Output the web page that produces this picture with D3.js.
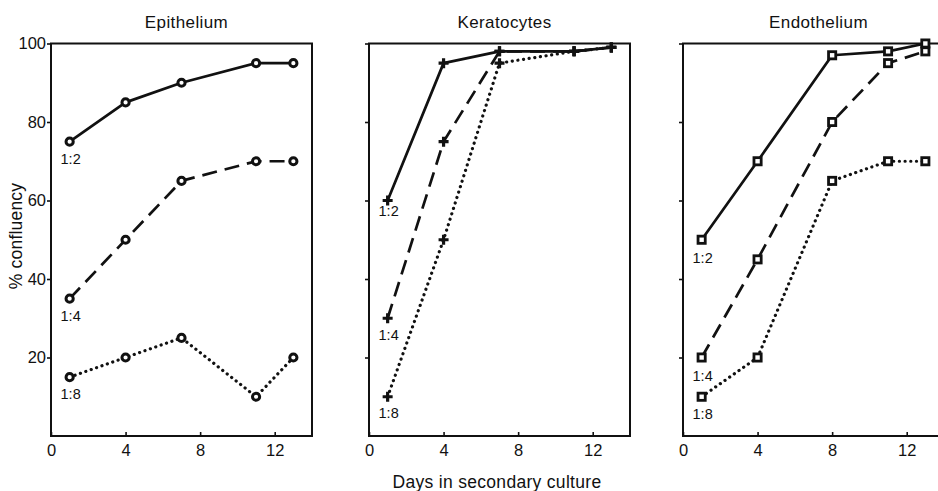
<!DOCTYPE html>
<html><head><meta charset="utf-8">
<script src="https://cdn.jsdelivr.net/npm/d3@7"></script>
<style>body{margin:0;background:#fff}svg{display:block}</style>
</head><body><svg id="c" width="938" height="491"></svg>
<script>
// ---- data ----
const panelTitles = ["Epithelium", "Keratocytes", "Endothelium"];
const ratioLabels = ["1:2", "1:4", "1:8"];
const xTicks = [0, 4, 8, 12];
const yTicks = [20, 40, 60, 80, 100];
const yTickLabels = ["20", "40", "60", "80", "100"];
const xTitle = "Days in secondary culture";
const yTitle = "% confluency";

const epiDays = [1, 4, 7, 11, 13];
const epi12 = [75, 85, 90, 95, 95];
const epi14 = [35, 50, 65, 70, 70];
const epi18 = [15, 20, 25, 10, 20];

const kerDays = [1, 4, 7, 11, 13];
const ker12 = [60, 95, 98, 98, 99];
const ker14 = [30, 75, 98, 98, 99];
const ker18 = [10, 50, 95, 98, 99];

const endDays = [1, 4, 8, 11, 13];
const end12 = [50, 70, 97, 98, 100];
const end14 = [20, 45, 80, 95, 98];
const end18 = [10, 20, 65, 70, 70];

// ---- build ----
const panelsData = [
  {title: panelTitles[0], days: epiDays, series: [epi12, epi14, epi18], marker: "circle"},
  {title: panelTitles[1], days: kerDays, series: [ker12, ker14, ker18], marker: "plus"},
  {title: panelTitles[2], days: endDays, series: [end12, end14, end18], marker: "square"}
];

const FONT = "'Liberation Sans', Arial, Helvetica, sans-serif";
const svg = d3.select("#c");
const lefts = [51, 369, 683];
const pw = 261, plotTop = 43.5, plotBottom = 436;
const dashes = [null, "15 8", "0.1 5.6"];
const labelDy = [[22, 22, 22], [15, 22, 21], [23, 23, 22]];

panelsData.forEach((p, pi) => {
  const x = d3.scaleLinear().domain([0, 14]).range([lefts[pi], lefts[pi] + pw]);
  const y = d3.scaleLinear().domain([0, 100]).range([plotBottom, plotTop]);
  const g = svg.append("g");

  // frame
  g.append("rect").attr("x", x(0)).attr("y", y(100)).attr("width", x(14) - x(0)).attr("height", y(0) - y(100))
    .attr("fill", "none").attr("stroke", "#111").attr("stroke-width", 2);

  // x axis
  const xa = g.append("g").attr("transform", `translate(0,${y(0)})`)
    .call(d3.axisBottom(x).tickValues(xTicks).tickSize(-4).tickPadding(8).tickFormat(d3.format("d")));
  xa.select(".domain").remove();
  xa.selectAll("line").attr("stroke", "#111").attr("stroke-width", 1.6);
  xa.selectAll("text").attr("font-family", FONT).attr("font-size", 16.5).attr("fill", "#111");

  // y axis
  const ya = g.append("g").attr("transform", `translate(${x(0)},0)`)
    .call(d3.axisLeft(y).tickValues(yTicks).tickSize(4).tickPadding(1)
      .tickFormat((d, i) => pi === 0 ? yTickLabels[i] : ""));
  ya.select(".domain").remove();
  ya.selectAll("line").attr("stroke", "#111").attr("stroke-width", 1.6);
  ya.selectAll("text").attr("font-family", FONT).attr("font-size", 16.5).attr("fill", "#111");

  // title
  g.append("text").attr("x", x(7) + 5).attr("y", 28).attr("text-anchor", "middle")
    .attr("font-family", FONT).attr("font-size", 17).attr("letter-spacing", 0.4).attr("fill", "#111").text(p.title);

  const line = d3.line().x(d => x(d[0])).y(d => y(d[1]));

  p.series.forEach((vals, si) => {
    const pts = p.days.map((d, i) => [d, vals[i]]);
    const path = g.append("path").datum(pts).attr("d", line)
      .attr("fill", "none").attr("stroke", "#111")
      .attr("stroke-width", si === 2 ? 3.2 : 2.7)
      .attr("stroke-linejoin", "round");
    if (dashes[si]) path.attr("stroke-dasharray", dashes[si]);
    if (si === 2) path.attr("stroke-linecap", "round");

    // markers
    pts.forEach(pt => {
      const cx = x(pt[0]), cy = y(pt[1]);
      if (p.marker === "circle") {
        g.append("circle").attr("cx", cx).attr("cy", cy).attr("r", 3.6)
          .attr("fill", "#fff").attr("stroke", "#111").attr("stroke-width", 3);
      } else if (p.marker === "square") {
        g.append("rect").attr("x", cx - 3.6).attr("y", cy - 3.6).attr("width", 7.2).attr("height", 7.2)
          .attr("fill", "#fff").attr("stroke", "#111").attr("stroke-width", 2.8);
      } else {
        g.append("path").attr("d", `M${cx - 5},${cy}H${cx + 5}M${cx},${cy - 5}V${cy + 5}`)
          .attr("stroke", "#111").attr("stroke-width", 3.2);
      }
    });

    // ratio label
    g.append("text").attr("x", x(pts[0][0]) + 1).attr("y", y(pts[0][1]) + labelDy[pi][si])
      .attr("text-anchor", "middle").attr("font-family", FONT).attr("font-size", 14.5).attr("fill", "#111")
      .text(ratioLabels[si]);
  });
});

// axis titles
svg.append("text").attr("x", 497).attr("y", 488).attr("text-anchor", "middle")
  .attr("font-family", FONT).attr("font-size", 17.5).attr("letter-spacing", 0.3).attr("fill", "#111").text(xTitle);
svg.append("text").attr("transform", "translate(22,236) rotate(-90)").attr("text-anchor", "middle")
  .attr("font-family", FONT).attr("font-size", 17.5).attr("letter-spacing", 0.2).attr("fill", "#111").text(yTitle);
</script>
</body></html>
